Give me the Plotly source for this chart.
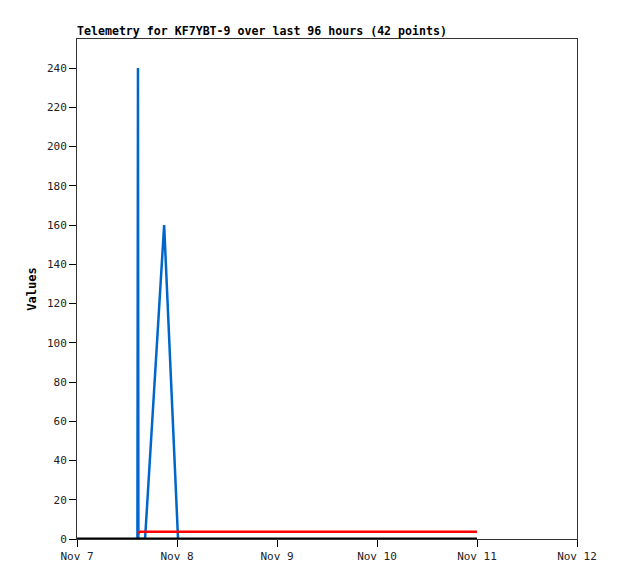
import plotly.graph_objects as go

# blue series (spiky)
blue_t = ["2023-11-07 14:30", "2023-11-07 14:38", "2023-11-07 14:44", "2023-11-07 16:20",
          "2023-11-07 20:55", "2023-11-08 00:15"]
blue_v = [0, 240, 0, 0, 160, 0]

# red series (flat ~3.7)
red_t = ["2023-11-07 14:40", "2023-11-07 15:10", "2023-11-07 18:00", "2023-11-08 12:00",
         "2023-11-09 12:00", "2023-11-10 12:00", "2023-11-11 00:00"]
red_v = [3.0, 3.7, 3.7, 3.7, 3.7, 3.7, 3.7]

# black series (zero)
black_t = ["2023-11-07 00:00", "2023-11-07 14:30", "2023-11-08 12:00", "2023-11-09 12:00",
           "2023-11-10 12:00", "2023-11-11 00:00"]
black_v = [0, 0, 0, 0, 0, 0]

x_ticks = ["2023-11-07", "2023-11-08", "2023-11-09", "2023-11-10", "2023-11-11", "2023-11-12"]
x_labels = ["Nov 7", "Nov 8", "Nov 9", "Nov 10", "Nov 11", "Nov 12"]

FONT = "DejaVu Sans Mono"

fig = go.Figure()
fig.add_trace(go.Scatter(x=blue_t, y=blue_v, mode="lines",
                         line=dict(color="#0066cc", width=2.5)))
fig.add_trace(go.Scatter(x=red_t, y=red_v, mode="lines",
                         line=dict(color="#ff0000", width=2.5)))
fig.add_trace(go.Scatter(x=black_t, y=black_v, mode="lines",
                         line=dict(color="#000000", width=3)))

# page body has an 8px margin, so margins are shifted to compensate
fig.update_layout(
    width=618, height=579,
    margin=dict(l=69, r=49, t=31, b=48),
    plot_bgcolor="white", paper_bgcolor="white",
    showlegend=False,
    font=dict(family=FONT, size=11, color="#222"),
    title=dict(text="<b>Telemetry for KF7YBT-9 over last 96 hours (42 points)</b>",
               font=dict(family=FONT, size=11.6, color="black"),
               xref="paper", x=0, xanchor="left",
               yref="container", y=1 - 23 / 579, yanchor="middle"),
    xaxis=dict(type="date", range=["2023-11-07", "2023-11-12"],
               tickvals=x_ticks, ticktext=x_labels,
               ticks="outside", ticklen=7, tickcolor="black",
               showgrid=False, zeroline=False, automargin=False,
               showline=True, linecolor="#333", linewidth=1, mirror=True),
    yaxis=dict(range=[0, 254.8], tick0=0, dtick=20,
               ticks="outside", ticklen=7, tickcolor="black",
               showgrid=False, zeroline=False, automargin=False,
               showline=True, linecolor="#333", linewidth=1, mirror=True,
               title=dict(text="<b>Values</b>", font=dict(family=FONT, size=12, color="black"),
                          standoff=7)),
)

fig.write_html("out.html")
